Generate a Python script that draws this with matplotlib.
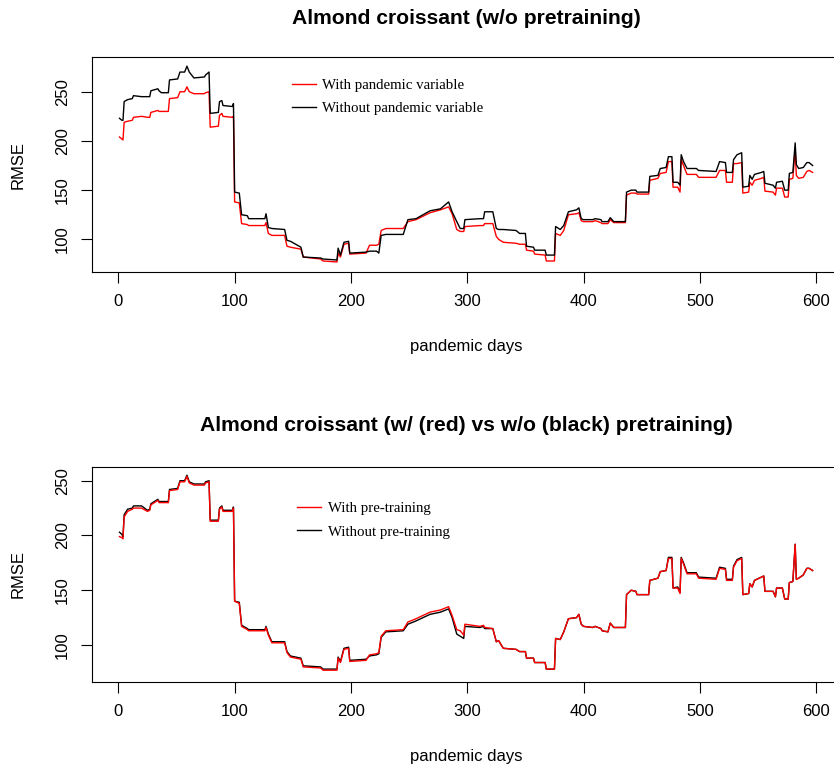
import matplotlib
matplotlib.use("Agg")
import matplotlib.pyplot as plt

# ---- data ----
days = [1, 3, 4, 5, 8, 12, 13, 20, 25, 27, 28, 34, 35, 37, 43, 44, 51, 53, 57, 59,
        61, 65, 74, 75, 78, 79, 86, 87, 89, 90, 98, 99, 100, 104, 106, 111, 112, 126, 127, 129,
        132, 143, 145, 148, 157, 159, 174, 176, 188, 189, 191, 194, 198, 199, 213, 216, 222, 224, 226, 230,
        245, 249, 256, 268, 277, 284, 287, 291, 294, 297, 298, 311, 314, 315, 322, 325, 327, 331, 342, 345,
        350, 351, 357, 358, 367, 368, 375, 376, 380, 383, 387, 394, 396, 398, 400, 408, 410, 415, 416, 421,
        423, 426, 436, 437, 441, 445, 446, 456, 457, 464, 466, 471, 473, 476, 477, 481, 483, 484, 486, 489,
        497, 499, 514, 517, 522, 523, 528, 529, 532, 536, 537, 542, 543, 545, 547, 553, 555, 556, 563, 565,
        566, 571, 573, 576, 577, 580, 582, 583, 585, 589, 592, 594, 597]

top_without = [223, 221, 221, 240, 242, 243, 246, 245, 245, 245, 251, 253, 251, 249, 249, 262, 263, 270, 270, 276,
               270, 264, 265, 267, 270, 228, 229, 240, 241, 236, 235, 238, 148, 147, 125, 124, 121, 121, 126, 112,
               111, 110, 99, 98, 92, 82, 81, 80, 79, 91, 84, 97, 98, 86, 87, 88, 88, 86, 104, 105,
               105, 120, 121, 129, 131, 138, 128, 118, 111, 111, 120, 121, 121, 128, 128, 111, 110, 110, 109, 106,
               106, 93, 92, 89, 89, 84, 84, 113, 110, 114, 128, 130, 132, 121, 120, 120, 121, 120, 118, 118,
               122, 118, 118, 148, 150, 150, 148, 148, 164, 165, 172, 173, 184, 184, 158, 158, 155, 186, 179, 172,
               172, 170, 169, 179, 178, 168, 168, 181, 186, 188, 153, 154, 165, 161, 166, 168, 169, 157, 155, 152,
               158, 159, 150, 150, 167, 168, 198, 176, 172, 173, 178, 178, 175]

top_with = [204, 202, 201, 219, 220, 221, 224, 225, 224, 224, 229, 231, 230, 230, 230, 243, 244, 250, 250, 255,
            250, 248, 248, 249, 250, 214, 215, 226, 228, 225, 224, 225, 138, 137, 116, 115, 114, 114, 117, 106,
            104, 104, 93, 92, 90, 82, 80, 78, 77, 86, 82, 95, 96, 85, 86, 94, 94, 95, 109, 111,
            111, 118, 120, 127, 130, 133, 126, 110, 108, 108, 113, 114, 114, 116, 116, 103, 100, 97, 96, 95,
            95, 89, 88, 85, 84, 78, 78, 106, 104, 109, 125, 126, 127, 119, 118, 118, 119, 117, 116, 116,
            120, 117, 117, 145, 147, 147, 146, 146, 160, 162, 167, 168, 179, 179, 153, 153, 148, 181, 175, 166,
            166, 163, 163, 170, 170, 158, 158, 177, 177, 178, 147, 148, 158, 155, 160, 162, 163, 149, 148, 145,
            152, 152, 143, 143, 161, 162, 192, 165, 162, 163, 169, 170, 168]

bottom_with = [199, 198, 197, 217, 222, 224, 225, 225, 222, 223, 228, 232, 230, 230, 230, 241, 242, 249, 249, 254,
               248, 246, 246, 248, 249, 213, 213, 224, 226, 222, 222, 225, 140, 138, 117, 114, 113, 113, 116, 109,
               102, 102, 93, 89, 87, 80, 79, 77, 77, 88, 84, 96, 97, 85, 86, 91, 92, 93, 108, 113,
               114, 121, 124, 130, 132, 135, 127, 114, 113, 109, 119, 117, 118, 116, 115, 103, 104, 97, 96, 94,
               94, 88, 88, 84, 84, 78, 78, 106, 105, 112, 124, 125, 128, 119, 117, 116, 117, 115, 113, 112,
               120, 116, 116, 146, 150, 149, 146, 146, 159, 161, 167, 168, 179, 179, 152, 152, 147, 179, 174, 165,
               165, 161, 160, 170, 169, 159, 159, 171, 177, 179, 146, 147, 156, 153, 159, 162, 163, 149, 149, 144,
               152, 152, 142, 142, 157, 158, 192, 160, 161, 164, 170, 170, 168]

bottom_without = [203, 201, 199, 219, 224, 225, 227, 227, 223, 224, 229, 233, 231, 231, 231, 242, 243, 250, 250, 255,
                  249, 247, 247, 249, 250, 214, 214, 225, 227, 223, 223, 226, 140, 139, 118, 115, 114, 114, 117, 110,
                  103, 103, 94, 90, 88, 81, 80, 78, 78, 89, 85, 97, 98, 86, 87, 90, 91, 92, 107, 112,
                  113, 119, 122, 128, 130, 133, 125, 110, 108, 106, 117, 116, 117, 115, 115, 103, 104, 97, 96, 94,
                  94, 88, 88, 84, 84, 78, 78, 106, 105, 112, 124, 125, 128, 119, 117, 116, 117, 115, 113, 112,
                  120, 116, 116, 146, 150, 149, 146, 146, 159, 161, 167, 168, 180, 180, 152, 153, 148, 180, 175, 166,
                  166, 162, 161, 171, 170, 160, 160, 172, 178, 180, 146, 147, 156, 153, 159, 162, 163, 149, 149, 144,
                  152, 152, 142, 142, 157, 158, 192, 160, 161, 164, 170, 170, 168]

x_ticks = [0, 100, 200, 300, 400, 500, 600]
y_ticks = [100, 150, 200, 250]

titles = ["Almond croissant (w/o pretraining)",
          "Almond croissant (w/ (red) vs w/o (black) pretraining)"]
legend_top = ["With pandemic variable", "Without pandemic variable"]
legend_bottom = ["With pre-training", "Without pre-training"]

# ---- figure ----
W, H = 834, 769
fig = plt.figure(figsize=(W / 100, H / 100), dpi=100)
SANS = ["Liberation Sans", "DejaVu Sans"]
SERIF = ["Liberation Serif", "DejaVu Serif"]
plt.rcParams["font.family"] = SANS


def px_rect(left, top, right, bottom):
    return [left / W, 1 - bottom / H, (right - left) / W, (bottom - top) / H]


panels = [
    dict(rect=px_rect(91.7, 57.3, 840.3, 272.3), ylim=(66.5, 285.0),
         red=top_with, black=top_without, labels=legend_top,
         leg_xy=(291.7, 78.5), title_y=18, xlab_y=347),
    dict(rect=px_rect(91.7, 466.7, 840.3, 681.7), ylim=(66.5, 262.8),
         red=bottom_with, black=bottom_without, labels=legend_bottom,
         leg_xy=(297.3, 501.7), title_y=425.5, xlab_y=757),
]

for i, p in enumerate(panels):
    ax = fig.add_axes(p["rect"])
    if i == 0:
        l1, = ax.plot(days, p["red"], color="red", lw=1.0)
        l2, = ax.plot(days, p["black"], color="black", lw=1.0)
    else:
        l2, = ax.plot(days, p["black"], color="black", lw=1.0)
        l1, = ax.plot(days, p["red"], color="red", lw=1.0)
    ax.set_xlim(-22.9, 620.8)
    ax.set_ylim(*p["ylim"])
    ax.set_xticks(x_ticks)
    ax.set_yticks(y_ticks)
    ax.set_xticklabels([str(v) for v in x_ticks])
    ax.set_yticklabels([str(v) for v in y_ticks], rotation=90, va="center")
    ax.tick_params(axis="both", direction="out", length=7.8, width=0.8,
                   labelsize=12, pad=8.0, colors="black")
    for s in ax.spines.values():
        s.set_linewidth(0.8)
        s.set_color("black")
    for lab in ax.get_xticklabels() + ax.get_yticklabels():
        lab.set_fontfamily(SANS)

    lx, ly = p["leg_xy"]
    ax.legend([l1, l2], p["labels"], loc="upper left",
              bbox_to_anchor=(lx / W, 1 - ly / H), bbox_transform=fig.transFigure,
              frameon=False, borderpad=0, borderaxespad=0,
              handlelength=1.62, handletextpad=0.45, labelspacing=0.68,
              prop={"family": SERIF, "size": 10.7})

    cx = (91.7 + 840.3) / 2 / W
    fig.text(cx, 1 - p["title_y"] / H, titles[i], ha="center", va="center",
             fontsize=15.2, fontweight="bold", family=SANS)
    fig.text(cx, 1 - p["xlab_y"] / H, "pandemic days", ha="center", va="center",
             fontsize=12, family=SANS)
    ymid = (p["rect"][1] + p["rect"][3] / 2)
    fig.text(18.3 / W, ymid, "RMSE", ha="center", va="center", rotation=90,
             fontsize=12, family=SANS)

fig.savefig("out.png", dpi=100)
